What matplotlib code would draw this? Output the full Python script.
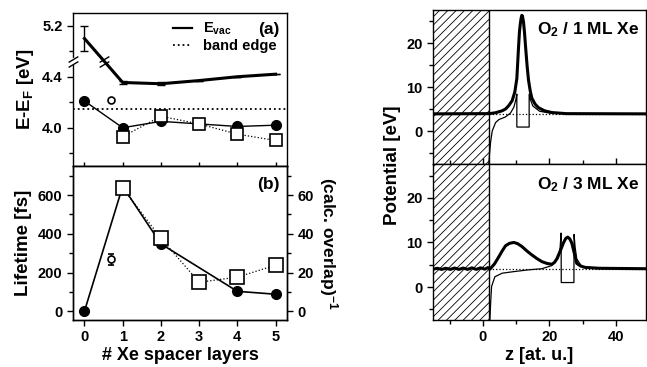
import numpy as np
import matplotlib
matplotlib.use('Agg')
import matplotlib.pyplot as plt
from matplotlib.lines import Line2D

plt.rcParams['font.family'] = ['Liberation Sans', 'DejaVu Sans']
plt.rcParams['font.weight'] = 'bold'
plt.rcParams['axes.labelweight'] = 'bold'
plt.rcParams['mathtext.fontset'] = 'custom'
plt.rcParams['mathtext.rm'] = 'Liberation Sans:bold'
plt.rcParams['mathtext.bf'] = 'Liberation Sans:bold'
plt.rcParams['mathtext.default'] = 'bf'
plt.rcParams['hatch.linewidth'] = 0.6

# ---- left panels: vs number of Xe layers ----
layers = [0, 1, 2, 3, 4, 5]
evac = [5.10, 4.355, 4.345, 4.37, 4.40, 4.42]
evac_err = [0.10, 0.01, 0.012, 0, 0, 0]
band_edge = 4.15

fill_x = [0, 1, 2, 4, 5]
fill_E = [4.21, 4.00, 4.05, 4.01, 4.02]
sq_x = [1, 2, 3, 4, 5]
sq_E = [3.93, 4.09, 4.03, 3.95, 3.90]
open_x = [0.7]
open_E = [4.22]

fill_tau = [0, 645, 348, 103, 88]
fill_tau_err = [0, 15, 22, 0, 0]
sq_overlap = [63.6, 37.7, 15.0, 17.6, 23.8]
open_tau = [269]
open_tau_err = [28]

# ---- right panels: potential vs z ----
z1_thick = [-15, 2.0, 3.8, 5.8, 6.8, 7.8, 8.8, 9.6, 10.2, 10.7, 11.0, 11.3, 11.5, 11.7,
            11.9, 12.2, 12.5, 12.9, 13.3, 13.7, 14.2, 14.7, 15.7, 16.7, 18.5, 20.7, 25, 49]
V1_thick = [4.0, 4.05, 4.25, 4.7, 5.1, 5.9, 7.0, 9.0, 12.0, 19.0, 22.8, 24.8, 25.8, 26.4,
            26.2, 24.9, 22.5, 18.5, 14.8, 11.7, 9.3, 7.6, 6.2, 5.4, 4.7, 4.3, 4.05, 4.0]
z1_thin = [1.8, 2.0, 2.3, 2.8, 3.8, 4.8, 6.8, 8.3, 9.3, 9.9, 10.2, 10.2, 13.9, 13.9,
           14.3, 15.0, 17.0, 20.0, 25.0, 49]
V1_thin = [-7.3, -5.0, -2.5, 0.1, 2.0, 2.7, 3.3, 4.2, 5.5, 7.2, 8.5, 1.0, 1.0, 8.5,
           7.2, 5.8, 4.6, 4.2, 4.05, 4.0]

z3_thick = [-15, -13.7, -12.4, -11.1, -9.8, -8.5, -7.2, -5.9, -4.6, -3.3, -2.0, -0.7, 0.6,
            1.5, 2.1, 3.5, 4.8, 5.8, 6.8, 8.0, 9.3, 10.5, 11.7, 13.2, 14.7, 16.2, 17.7,
            19.2, 20.7, 21.5, 22.2, 23.2, 24.2, 24.9, 25.5, 26.1, 26.7, 27.4, 28.2, 29.4,
            30.7, 35, 49]
V3_thick = [4.0, 4.2, 3.95, 4.2, 3.95, 4.25, 3.95, 4.25, 3.95, 4.3, 3.95, 4.3, 4.0,
            4.35, 4.0, 5.2, 6.8, 8.1, 9.25, 9.8, 10.0, 9.7, 9.1, 8.1, 7.2, 6.4, 5.7,
            5.3, 5.1, 5.5, 6.3, 8.0, 9.9, 10.9, 11.2, 10.8, 9.9, 7.8, 5.3, 4.7,
            4.4, 4.2, 4.1]
z3_thin = [2.1, 2.3, 2.6, 3.6, 5.8, 9.8, 13.7, 17.7, 20.7, 22.7, 23.2, 23.5, 23.55,
           27.35, 27.4, 27.7, 28.2, 29.7, 33, 49]
V3_thin = [-7.4, -4.0, 0.1, 2.3, 3.1, 3.5, 3.85, 4.1, 4.8, 6.5, 8.8, 12.1, 1.0,
           1.0, 11.8, 9.0, 6.3, 4.6, 4.2, 4.05]

metal_edge = 1.8
vac_level = 4.0


def disp(v):
    # broken axis: values above the break are shifted down by 0.4 eV
    return v - 0.4 if v > 4.7 else v


fig = plt.figure(figsize=(6.47, 3.67), dpi=100)
axa = fig.add_axes([0.1128, 0.5477, 0.3308, 0.4169])
axb = fig.add_axes([0.1128, 0.1281, 0.3308, 0.4196])
axt = fig.add_axes([0.6692, 0.5531, 0.3292, 0.4196])
axd = fig.add_axes([0.6692, 0.1281, 0.3292, 0.4251])

tick_kw = dict(labelsize=10.5, width=1.0, length=4)
lab_fs = 13.5

# (a)
ev = [disp(v) for v in evac]
axa.errorbar(layers, ev, yerr=evac_err, color='k', lw=2.2, capsize=3, elinewidth=1,
             capthick=1)
axa.axhline(band_edge, color='k', ls=':', lw=1.3)
axa.plot(fill_x, fill_E, 'k-', lw=1.0, marker='o', ms=7)
axa.plot(sq_x, sq_E, color='k', ls=':', lw=0.9, marker='s', ms=9, mfc='white', mew=1.2)
axa.plot(open_x, open_E, 'o', color='k', ms=5, mfc='white', mew=1.2)
axa.set_xlim(-0.3, 5.3)
axa.set_ylim(3.70, 4.90)
axa.set_yticks([4.0, 4.4, 4.8])
axa.set_yticklabels(['4.0', '4.4', '5.2'])
axa.set_yticks([3.8, 4.2, 4.6], minor=True)
axa.set_xticks(layers)
axa.tick_params(axis='x', direction='inout', labelbottom=False, length=6, width=1)
axa.tick_params(axis='y', **tick_kw)
axa.tick_params(axis='y', which='minor', length=3, width=1)
axa.set_ylabel('E-E$_F$ [eV]', fontsize=lab_fs, labelpad=4)
axa.text(0.967, 0.89, '(a)', transform=axa.transAxes, ha='right', va='center', fontsize=12.5)
handles = [Line2D([], [], color='k', lw=1.6), Line2D([], [], color='k', ls=':', lw=1.3)]
axa.legend(handles, ['E$_{vac}$', 'band edge'], loc='upper left',
           bbox_to_anchor=(0.465, 0.95), frameon=False, fontsize=10.5, handlelength=1.35,
           handletextpad=0.75, labelspacing=0.15, borderpad=0, borderaxespad=0)
# break marks on axis and on the line
brk = [(-1, -0.6), (1, 0.6)]
axa.plot([-0.3, -0.3], [4.505, 4.535], color='white', lw=3, clip_on=False, zorder=5)
axa.plot([-0.3, -0.3], [4.50, 4.54], ls='none', marker=brk, ms=7, mec='k', mew=1,
         clip_on=False, zorder=6)
xb = (ev[0] - 4.52) / (ev[0] - ev[1])
axa.plot([xb, xb], [4.50, 4.54], ls='none', marker=brk, ms=7, mec='k', mew=1, zorder=6)

# (b)
axb.errorbar(fill_x, fill_tau, yerr=fill_tau_err, color='k', lw=1.2, marker='o', ms=7,
             capsize=0, elinewidth=1)
axb.errorbar(open_x, open_tau, yerr=open_tau_err, color='k', ls='none', marker='o', ms=5,
             mfc='white', mew=1.2, capsize=2, elinewidth=1)
axb.set_xlim(-0.3, 5.3)
axb.set_ylim(-45, 750)
axb.set_yticks([0, 200, 400, 600])
axb.set_yticks([100, 300, 500, 700], minor=True)
axb.set_xticks(layers)
axb.tick_params(**tick_kw)
axb.tick_params(axis='y', which='minor', length=3, width=1)
axb.set_ylabel('Lifetime [fs]', fontsize=lab_fs, labelpad=4)
axb.set_xlabel('# Xe spacer layers', fontsize=13, labelpad=2)
axb.text(0.967, 0.877, '(b)', transform=axb.transAxes, ha='right', va='center', fontsize=12.5)
axb2 = axb.twinx()
axb2.plot(sq_x, sq_overlap, color='k', ls=':', lw=0.9, marker='s', ms=10, mfc='white',
          mew=1.2)
axb2.set_ylim(-4.5, 75)
axb2.set_yticks([0, 20, 40, 60])
axb2.set_yticks([10, 30, 50, 70], minor=True)
axb2.tick_params(**tick_kw)
axb2.tick_params(axis='y', which='minor', length=3, width=1)
axb2.set_ylabel('(calc. overlap)$^{-1}$', fontsize=12.5, rotation=270, labelpad=19)

# right panels
for ax, zt, Vt, zn, Vn, lab, ty in [
        (axt, z1_thick, V1_thick, z1_thin, V1_thin, 'O$_2$ / 1 ML Xe', 0.87),
        (axd, z3_thick, V3_thick, z3_thin, V3_thin, 'O$_2$ / 3 ML Xe', 0.865)]:
    ax.axvspan(-15, metal_edge, fill=False, hatch='////', edgecolor='k', lw=0)
    ax.axvline(metal_edge, color='k', lw=1.0)
    ax.plot([metal_edge, 49], [vac_level, vac_level], 'k:', lw=0.9)
    ax.plot(zn, Vn, 'k-', lw=0.9)
    ax.plot(zt, Vt, 'k-', lw=2.2, solid_joinstyle='round')
    ax.set_xlim(-15, 49)
    ax.set_ylim(-7.4, 27.6)
    ax.set_yticks([0, 10, 20])
    ax.set_yticks([-5, 5, 15, 25], minor=True)
    ax.set_xticks([0, 20, 40])
    ax.set_xticks([-10, 10, 30], minor=True)
    ax.tick_params(**tick_kw)
    ax.tick_params(which='minor', length=3, width=1)
    ax.text(0.967, ty, lab, transform=ax.transAxes, ha='right', va='center', fontsize=12.5)
axt.plot([-15, metal_edge], [vac_level, vac_level], 'k-', lw=1.5)
axt.tick_params(axis='x', which='both', direction='in', labelbottom=False)
axd.set_xlabel('z [at. u.]', fontsize=13, labelpad=2)
fig.text(0.607, 0.55, 'Potential [eV]', rotation=90, ha='center', va='center',
         fontsize=13.5, fontweight='bold')

for ax in [axa, axb, axb2, axt, axd]:
    for s in ax.spines.values():
        s.set_linewidth(1.0)
    for t in ax.get_xticklabels() + ax.get_yticklabels():
        t.set_fontweight('bold')

fig.savefig('out.png', dpi=100)
